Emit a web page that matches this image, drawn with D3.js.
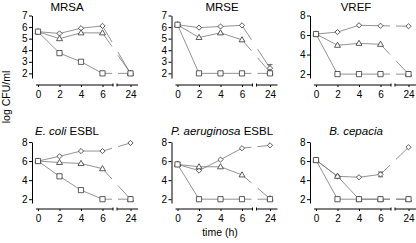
<!DOCTYPE html>
<html>
<script src='https://d3js.org/d3.v7.min.js'></script>
<style>
  body { margin: 0; background: #fff; }
  text { font-family: 'Liberation Sans', Arial, sans-serif; }
</style>
<body>
<div id='vis'></div>
<script>
// time points (h)
const times = [0, 2, 4, 6, 24];

// panel titles: [italic part, normal part]
const titles = [['', 'MRSA'], ['', 'MRSE'], ['', 'VREF'],
                ['E. coli', ' ESBL'], ['P. aeruginosa', ' ESBL'], ['B. cepacia', '']];

// log CFU/ml values per panel: diamond, triangle, square
const diamond = [
  [5.6, 5.45, 5.9, 6.1, 2.0],
  [6.2, 5.95, 6.05, 6.15, 2.45],
  [6.1, 6.3, 7.0, 6.95, 6.9],
  [6.0, 6.5, 7.05, 7.05, 7.9],
  [5.65, 5.0, 6.15, 7.35, 7.65],
  [6.1, 4.4, 4.3, 4.6, 7.45]
];
const triangle = [
  [5.6, 5.0, 5.5, 5.5, 2.0],
  [6.2, 5.1, 5.5, 4.9, 2.1],
  [6.1, 4.95, 5.15, 5.05, 2.0],
  [6.0, 5.85, 5.75, 5.2, 2.0],
  [5.65, 5.4, 5.4, 4.55, 2.05],
  [6.1, 4.4, 2.0, 2.0, 2.0]
];
const square = [
  [5.6, 3.75, 3.0, 2.0, 2.0],
  [6.2, 2.0, 2.0, 2.0, 2.0],
  [6.1, 2.0, 2.0, 2.0, 2.0],
  [6.0, 4.4, 2.95, 2.0, 2.0],
  [5.65, 2.0, 2.0, 2.0, 2.0],
  [6.1, 2.0, 2.0, 2.0, 2.0]
];
// error bars (half-width), diamond series
const diamondErr = [
  [0, 0, 0, 0, 0],
  [0, 0, 0, 0, 0.3],
  [0, 0, 0, 0, 0],
  [0, 0, 0, 0, 0],
  [0, 0, 0, 0, 0],
  [0, 0, 0, 0.25, 0]
];
const yMax = [7, 7, 8, 8, 8, 8];
const yTicks = [[2,3,4,5,6,7], [2,3,4,5,6,7], [2,4,6,8], [2,4,6,8], [2,4,6,8], [2,4,6,8]];

const W = 416, H = 243;
const svg = d3.select('#vis').append('svg').attr('width', W).attr('height', H);

const colX = [32, 171.5, 310];
const titleX = [67, 222, 356];
const rowY = [{top: 15.5, bot: 78, axis: 85, title: 11}, {top: 142, bot: 203, axis: 209, title: 135}];
const brk = [81, 85]; // axis break in local px

const lineCol = '#777', markCol = '#333';

function symbolPath(type, s) {
  if (type === 'sq') return `M${-s},${-s}H${s}V${s}H${-s}Z`;
  if (type === 'tri') return `M0,${-s*1.15}L${s*1.1},${s*0.75}L${-s*1.1},${s*0.75}Z`;
  return `M0,${-s}L${s},0L0,${s}L${-s},0Z`;
}

for (let p = 0; p < 6; p++) {
  const col = p % 3, row = Math.floor(p / 3);
  const r = rowY[row];
  const g = svg.append('g').attr('transform', `translate(${colX[col]},0)`);

  const x = d3.scaleLinear().domain([0, 6, 24]).range([6, 70.5, 98.5]);
  const y = d3.scaleLinear().domain([1.6, yMax[p]]).range([r.bot, r.top]);

  // y axis
  const ya = g.append('g').call(d3.axisLeft(y).tickValues(yTicks[p]).tickFormat(d3.format('d'))
    .tickSize(3).tickSizeOuter(0).tickPadding(1.5));
  ya.select('.domain').attr('stroke', '#000');
  ya.selectAll('text').attr('font-size', 10).attr('fill', '#000');

  // x axis (broken)
  const xa = g.append('g').attr('transform', `translate(0,${r.axis})`)
    .call(d3.axisBottom(x).tickValues(times).tickSize(2).tickPadding(4));
  xa.select('.domain').remove();
  xa.selectAll('text').attr('font-size', 10).attr('fill', '#000');
  [[4, brk[0]], [brk[1], 106]].forEach(([a, b]) => {
    xa.append('line').attr('x1', a).attr('x2', b).attr('y1', 0).attr('y2', 0).attr('stroke', '#000');
  });
  [brk[0], brk[1]].forEach(v => {
    xa.append('line').attr('x1', v).attr('x2', v).attr('y1', -1.5).attr('y2', 1.5).attr('stroke', '#000');
  });

  // title
  const t = svg.append('text').attr('x', titleX[col]).attr('y', r.title)
    .attr('text-anchor', 'middle').attr('font-size', 11.5);
  if (titles[p][0]) t.append('tspan').attr('font-style', 'italic').text(titles[p][0]);
  if (titles[p][1]) t.append('tspan').text(titles[p][1]);

  const series = [['dia', diamond[p], diamondErr[p]], ['tri', triangle[p], null], ['sq', square[p], null]];

  // lines
  series.forEach(([type, vals]) => {
    const pts = vals.map((v, i) => [x(times[i]), y(v)]);
    g.append('path').attr('d', d3.line()(pts.slice(0, 4)))
      .attr('fill', 'none').attr('stroke', lineCol).attr('stroke-width', 0.8);
    const [x1, y1] = pts[3], [x2, y2] = pts[4];
    const at = xx => y1 + (y2 - y1) * (xx - x1) / (x2 - x1);
    const ga = brk[0] - 1, gb = brk[1] + 1;
    g.append('line').attr('x1', x1).attr('y1', y1).attr('x2', ga).attr('y2', at(ga))
      .attr('stroke', lineCol).attr('stroke-width', 0.8);
    g.append('line').attr('x1', gb).attr('y1', at(gb)).attr('x2', x2).attr('y2', y2)
      .attr('stroke', lineCol).attr('stroke-width', 0.8);
  });

  // error bars and markers
  series.forEach(([type, vals, err]) => {
    vals.forEach((v, i) => {
      const cx = x(times[i]), cy = y(v);
      if (err && err[i] > 0) {
        const e1 = y(v - err[i]), e2 = y(v + err[i]);
        g.append('line').attr('x1', cx).attr('x2', cx).attr('y1', e1).attr('y2', e2).attr('stroke', markCol).attr('stroke-width', 0.8);
        [e1, e2].forEach(ey => g.append('line').attr('x1', cx - 2.5).attr('x2', cx + 2.5).attr('y1', ey).attr('y2', ey)
          .attr('stroke', markCol).attr('stroke-width', 0.8));
      }
      const s = type === 'sq' ? 2.6 : (type === 'tri' ? 2.7 : 2.6);
      g.append('path').attr('d', symbolPath(type, s))
        .attr('transform', `translate(${cx},${cy})`)
        .attr('fill', '#fff').attr('stroke', markCol).attr('stroke-width', 0.8);
    });
  });
}

// shared axis labels
svg.append('text').attr('transform', 'translate(10,97) rotate(-90)')
  .attr('text-anchor', 'middle').attr('font-size', 10.5).text('log CFU/ml');
svg.append('text').attr('x', 220).attr('y', 236)
  .attr('text-anchor', 'middle').attr('font-size', 10.5).text('time (h)');
</script>
</body>
</html>
